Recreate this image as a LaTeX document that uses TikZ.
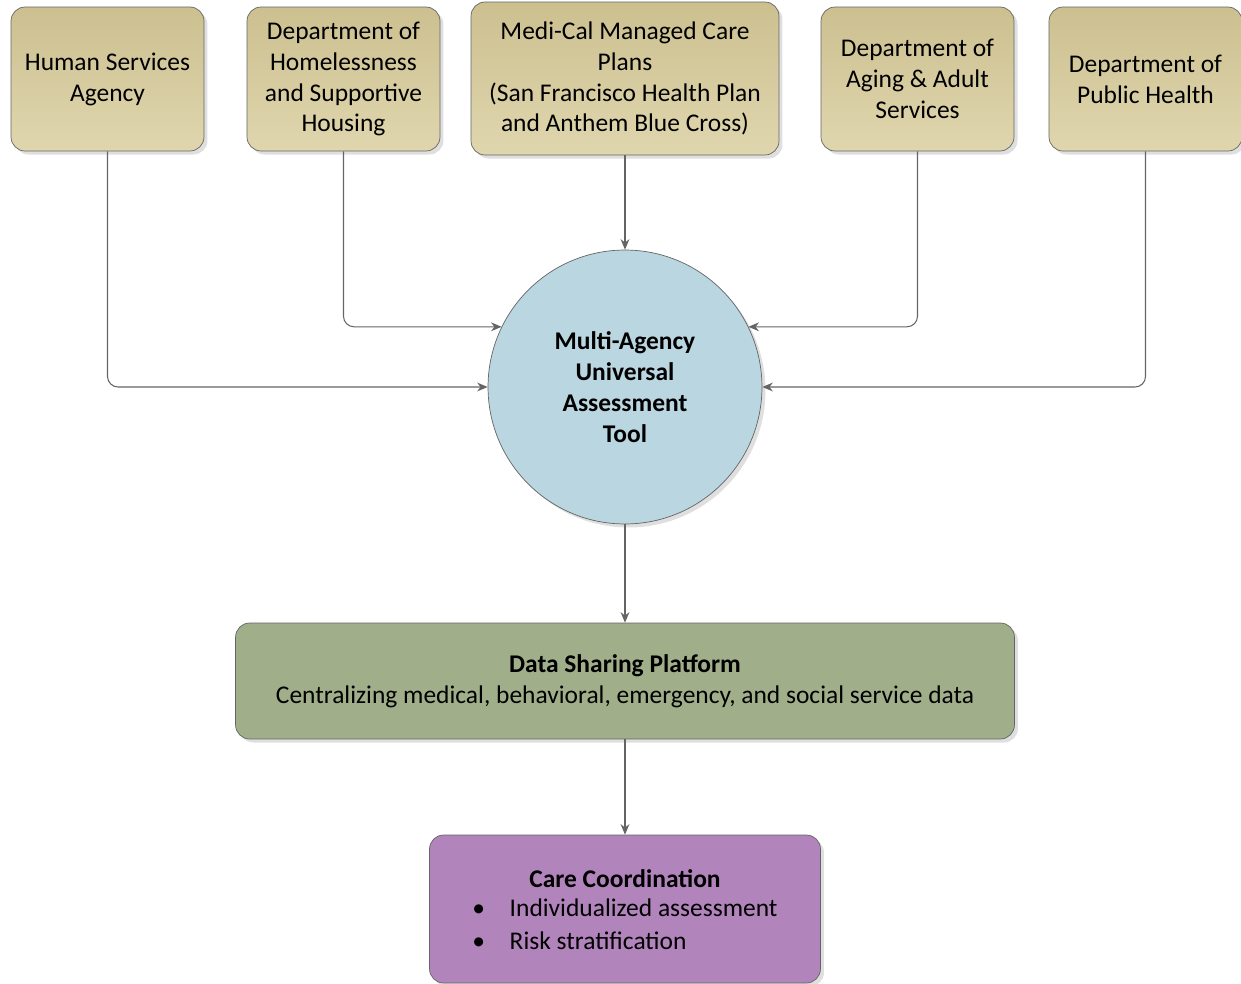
\documentclass[tikz,border=0pt]{standalone}
\usepackage{fontspec}
\setmainfont{Carlito}
\usepackage{tikz}
\usetikzlibrary{
    positioning,   % Relative positioning
    arrows.meta,   % Modern arrow tips
    shadows        % Drop shadows
}

\definecolor{tanTop}{RGB}{204,192,144}
\definecolor{tanBot}{RGB}{224,214,174}
\definecolor{hubBlue}{RGB}{186,214,224}
\definecolor{dataGreen}{RGB}{160,175,138}
\definecolor{careLilac}{RGB}{178,132,188}
\definecolor{edgeGray}{RGB}{100,100,100}

\tikzset{
    softshadow/.style={drop shadow={opacity=0.25, shadow xshift=2pt, shadow yshift=-2pt}},
    agency/.style={draw=edgeGray, rounded corners=8pt, top color=tanTop, bottom color=tanBot,
        softshadow, minimum width=3.86cm, minimum height=2.88cm, align=center,
        font=\fontsize{14.5}{17.6}\selectfont},
    hub/.style={draw=edgeGray, circle, fill=hubBlue, softshadow, minimum size=5.48cm,
        align=center, font=\fontsize{14.5}{17.6}\selectfont\bfseries},
    platform/.style={draw=edgeGray, rounded corners=8pt, fill=dataGreen, softshadow,
        minimum width=15.58cm, minimum height=2.32cm, align=center,
        font=\fontsize{14.5}{17.6}\selectfont},
    carebox/.style={draw=edgeGray, rounded corners=8pt, fill=careLilac, softshadow,
        minimum width=7.82cm, minimum height=2.96cm, align=center,
        font=\fontsize{14.5}{17.6}\selectfont},
    flow/.style={draw=edgeGray, line width=0.6pt, rounded corners=6pt,
        -{Stealth[length=6pt,width=5pt]}}
}

\begin{document}
\begin{tikzpicture}[x=0.02cm, y=-0.02cm]
    \useasboundingbox (0,0) rectangle (1241,984);

    % Agencies feeding the assessment tool
    \node[agency] (hsa)  at (107.5,79) {Human Services\\Agency};
    \node[agency] (dhsh) at (343.5,79) {Department of\\Homelessness\\and Supportive\\Housing};
    \node[agency, minimum width=6.16cm, minimum height=3.06cm] (mcal) at (625,78.5)
        {Medi-Cal Managed Care\\Plans\\(San Francisco Health Plan\\and Anthem Blue Cross)};
    \node[agency] (daas) at (917.5,79) {Department of\\Aging \& Adult\\Services};
    \node[agency] (dph)  at (1145.5,79) {Department of\\Public Health};

    % Central tool
    \node[hub] (maua) at (625,387) {Multi-Agency\\Universal\\Assessment\\Tool};

    % Platform and coordination
    \node[platform] (dsp) at (625,681)
        {\textbf{Data Sharing Platform}\\Centralizing medical, behavioral, emergency, and social service data};
    \node[carebox] (care) at (625,909)
        {\rule{0pt}{16pt}\textbf{Care Coordination}\\[3pt]
         \begin{tabular}{@{}l@{\hspace{14pt}}l@{}}
         \textbullet & Individualized assessment\\[1pt]
         \textbullet & Risk stratification
         \end{tabular}};

    % Connectors
    \draw[flow] (hsa.south) |- (maua.west);
    \draw[flow] (dhsh.south) |- (maua.154.5);
    \draw[flow] (mcal.south) -- (maua.north);
    \draw[flow] (daas.south) |- (maua.26.4);
    \draw[flow] (dph.south) |- (maua.east);
    \draw[flow] (maua.south) -- (dsp.north);
    \draw[flow] (dsp.south) -- (care.north);
\end{tikzpicture}
\end{document}
